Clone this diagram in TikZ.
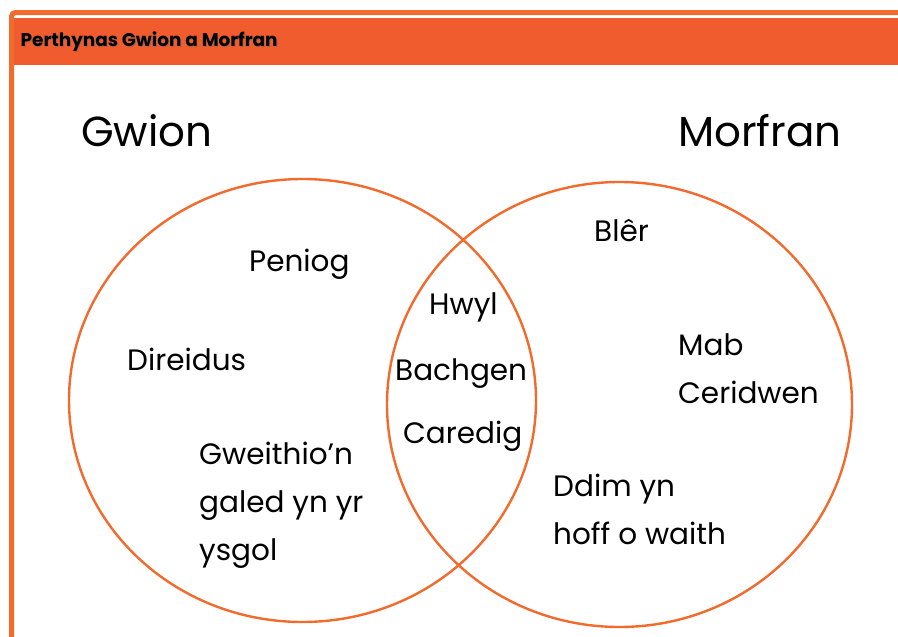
\documentclass[tikz,border=0pt]{standalone}
\usepackage{fontspec}
\setmainfont{Poppins}
\definecolor{hdrorange}{RGB}{241,92,46}
\definecolor{ringorange}{RGB}{242,106,44}
\begin{document}
\begin{tikzpicture}[x=1pt,y=-1pt,
  ring/.style={draw=ringorange,line width=2.4pt},
  title/.style={anchor=base west,inner sep=0pt,font=\fontsize{42}{48}\selectfont},
  item/.style={anchor=base west,inner sep=0pt,align=left,font=\fontsize{29.5}{48}\selectfont},
  hdrtext/.style={anchor=base west,inner sep=0pt,font=\fontsize{18.4}{20}\selectfont\bfseries}]
\useasboundingbox (0,0) rectangle (898,637);
% frame
\draw[ringorange,line width=5pt,rounded corners=4pt] (11.5,640) -- (11.5,12.5) -- (900,12.5);
\fill[hdrorange] (14,18.3) rectangle (898,65);
\node[hdrtext,text=black!60,opacity=0.5] (hdrshadow) at (21.3,47.5) {Perthynas Gwion a Morfran};
\node[hdrtext] (hdr) at (20.5,46.7) {Perthynas Gwion a Morfran};
% circles
\draw[ring] (302.5,400.5) ellipse [x radius=233.5, y radius=221.5];
\draw[ring] (619.5,404.5) ellipse [x radius=232.5, y radius=222.5];
% titles
\node[title] (gwion) at (81,146.5) {Gwion};
\node[title] (morfran) at (678,146.5) {Morfran};
% left (base anchor of a multi-line node = baseline of its last line)
\node[item] (peniog) at (249,271) {Peniog};
\node[item] (direidus) at (127,370) {Direidus};
\node[item] (gweithio) at (199,560) {Gweithio’n\\galed yn yr\\ysgol};
% middle
\node[item] (hwyl) at (429,314.7) {Hwyl};
\node[item] (bachgen) at (395,380) {Bachgen};
\node[item] (caredig) at (403,443.3) {Caredig};
% right
\node[item] (bler) at (594,241.7) {Blêr};
\node[item] (mab) at (678,403) {Mab\\Ceridwen};
\node[item] (ddim) at (553,544) {Ddim yn\\hoff o waith};
\end{tikzpicture}
\end{document}
